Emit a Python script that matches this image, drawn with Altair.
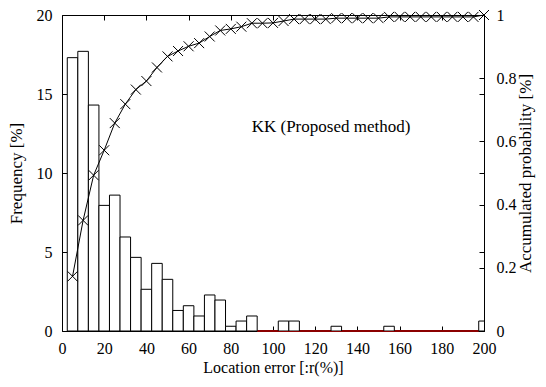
import altair as alt
import pandas as pd

FONT = "Liberation Serif"

# ---- data ----
bin_centers = [5, 10, 15, 20, 25, 30, 35, 40, 45, 50,
               55, 60, 65, 70, 75, 80, 85, 90, 95, 100,
               105, 110, 115, 120, 125, 130, 135, 140, 145, 150,
               155, 160, 165, 170, 175, 180, 185, 190, 195, 200]
frequency = [17.3, 17.7, 14.3, 7.95, 8.6, 5.95, 4.66, 2.64, 4.28, 3.27,
             1.3, 1.6, 0.95, 2.28, 1.96, 0.3, 0.63, 0.95, 0.0, 0.0,
             0.63, 0.63, 0.0, 0.0, 0.0, 0.3, 0.0, 0.0, 0.0, 0.0,
             0.3, 0.0, 0.0, 0.0, 0.0, 0.0, 0.0, 0.0, 0.0, 0.63]
accumulated = [0.173, 0.35, 0.493, 0.572, 0.658, 0.718, 0.764, 0.791, 0.834, 0.869,
               0.886, 0.901, 0.911, 0.932, 0.951, 0.956, 0.963, 0.974, 0.974, 0.975,
               0.981, 0.987, 0.987, 0.987, 0.987, 0.990, 0.990, 0.990, 0.990, 0.990,
               0.994, 0.994, 0.994, 0.994, 0.994, 0.994, 0.994, 0.994, 0.994, 1.0]
x_ticks = [0, 20, 40, 60, 80, 100, 120, 140, 160, 180, 200]
freq_ticks = [0, 5, 10, 15, 20]
prob_ticks = [0, 0.2, 0.4, 0.6, 0.8, 1.0]
zero_segment = [92.5, 197.5]
label_text = ["KK (Proposed method)"]
label_pos = [127.5, 12.9]

bars_df = pd.DataFrame({"center": bin_centers, "freq": frequency})
bars_nonzero = bars_df[bars_df["freq"] > 0]
cdf_df = pd.DataFrame({"err": bin_centers, "prob": accumulated})
seg_df = pd.DataFrame({"start": [zero_segment[0]], "end": [zero_segment[1]], "y": [0]})
txt_df = pd.DataFrame({"tx": [label_pos[0]], "ty": [label_pos[1]], "t": label_text})


def xs():
    return alt.Scale(domain=[0, 200], nice=False, zero=False)


def yfs():
    return alt.Scale(domain=[0, 20], nice=False)


def ycs():
    return alt.Scale(domain=[0, 1], nice=False)


common = dict(offset=-5, domain=False, tickSize=5, tickColor="black", tickWidth=1,
              labelFont=FONT, labelFontSize=16, labelColor="black", grid=False,
              labelFlush=False, labelOverlap=False,
              titleFont=FONT, titleFontSize=17, titleFontWeight="normal", titleColor="black")
ticks_only = dict(offset=-5, domain=False, tickSize=5, tickColor="black", tickWidth=1,
                  labels=False, grid=False, title=None)

seg = alt.Chart(seg_df).mark_rule(color="#8b0000", strokeWidth=2).encode(
    x=alt.X("start:Q", scale=xs(), axis=None),
    x2="end:Q",
    y=alt.Y("y:Q", scale=yfs(), axis=None),
)

bottom_axis = dict(common)
bottom_axis["titleFontSize"] = 16

bars = alt.Chart(bars_nonzero).transform_calculate(
    x0="datum.center - 2.5", x1="datum.center + 2.5"
).mark_rect(fill="white", stroke="black", strokeWidth=1, clip=True).encode(
    x=alt.X("x0:Q", scale=xs(),
            axis=alt.Axis(orient="bottom", values=x_ticks, title="Location error [:r(%)]",
                          labelPadding=9, titlePadding=3, **bottom_axis)),
    x2="x1:Q",
    y=alt.Y("freq:Q", scale=yfs(),
            axis=alt.Axis(orient="left", values=freq_ticks, title="Frequency [%]",
                          labelPadding=10, titlePadding=11, **common)),
    y2=alt.datum(0),
)

mirror = alt.Chart(bars_df).mark_point(opacity=0).encode(
    x=alt.X("center:Q", scale=xs(), axis=alt.Axis(orient="top", values=x_ticks, **ticks_only)),
    y=alt.Y("freq:Q", scale=yfs(), axis=alt.Axis(orient="right", values=freq_ticks, **ticks_only)),
)

text = alt.Chart(txt_df).mark_text(font=FONT, fontSize=17, color="black").encode(
    x=alt.X("tx:Q", scale=xs(), axis=None),
    y=alt.Y("ty:Q", scale=yfs(), axis=None),
    text="t:N",
)

line = alt.Chart(cdf_df).mark_line(color="black", strokeWidth=1).encode(
    x=alt.X("err:Q", scale=xs(), axis=None),
    y=alt.Y("prob:Q", scale=ycs(),
            axis=alt.Axis(orient="right", values=prob_ticks, format="~g",
                          title="Accumulated probability [%]", titleAngle=270,
                          titleBaseline="top", labelPadding=12, titlePadding=1, **common)),
)
pts = alt.Chart(cdf_df).mark_point(
    shape="M-1,-1L1,1M-1,1L1,-1", size=100, filled=False, color="black",
    strokeWidth=1, opacity=1
).encode(
    x=alt.X("err:Q", scale=xs(), axis=None),
    y=alt.Y("prob:Q", scale=ycs(), axis=None),
)

chart = alt.layer(seg, bars, mirror, text, line, pts).resolve_scale(
    x="independent", y="independent"
).properties(
    width=422, height=316,
    background="white",
    autosize=alt.AutoSizeParams(type="none"),
    padding={"left": 54, "top": 7, "right": 54, "bottom": 48},
).configure_view(stroke="black", strokeWidth=1)

chart.save("out.html", embed_options={"renderer": "svg", "actions": False})
